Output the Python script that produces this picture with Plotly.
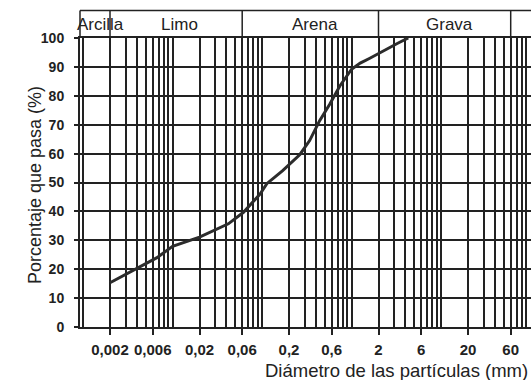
import math
import plotly.graph_objects as go

# ---- data ----
diam = [0.002, 0.003, 0.004, 0.0067, 0.010, 0.020, 0.042, 0.062, 0.095, 0.113,
        0.17, 0.265, 0.34, 0.44, 0.57, 0.74, 1.0, 1.25, 1.6, 2.0, 2.5, 3.2, 4.3]
pct = [15.3, 18.2, 20.4, 24.0, 27.9, 31.1, 35.7, 39.7, 46.0, 49.6,
       54.1, 59.7, 64.5, 71.4, 77.1, 83.4, 89.2, 91.3, 93.0, 94.7, 96.2, 98.0, 100.0]

x_tickvals = [0.002, 0.006, 0.02, 0.06, 0.2, 0.6, 2, 6, 20, 60]
x_ticktext = ["0,002", "0,006", "0,02", "0,06", "0,2", "0,6", "2", "6", "20", "60"]
y_tickvals = [0, 10, 20, 30, 40, 50, 60, 70, 80, 90, 100]

zone_names = ["Arcilla", "Limo", "Arena", "Grava"]
zone_label_x = [0.00158, 0.0121, 0.386, 12.3]
zone_bounds = [0.002, 0.06, 2, 60]

INK = "#222222"
FONT = "Liberation Sans, Arial, sans-serif"

fig = go.Figure()
fig.add_trace(go.Scatter(
    x=diam, y=pct, mode="lines",
    line=dict(color="#2c2c2c", width=3),
    showlegend=False, hoverinfo="skip",
))

HEAD_TOP = 1.095
shapes = [
    dict(type="line", xref="paper", yref="paper", x0=0, x1=1, y0=HEAD_TOP, y1=HEAD_TOP,
         line=dict(color=INK, width=1.5)),
    dict(type="line", xref="paper", yref="paper", x0=0, x1=0, y0=1, y1=HEAD_TOP,
         line=dict(color=INK, width=1.5)),
]
for b in zone_bounds:
    shapes.append(dict(type="line", xref="x", yref="paper", x0=b, x1=b, y0=1, y1=HEAD_TOP,
                       line=dict(color=INK, width=1.5)))

annotations = []
for name, xv in zip(zone_names, zone_label_x):
    annotations.append(dict(text=name, xref="x", yref="paper", x=math.log10(xv), y=1.045,
                            xanchor="center", yanchor="middle", showarrow=False,
                            font=dict(family=FONT, size=17, color=INK)))
annotations.append(dict(text="Diámetro de las partículas (mm)", xref="paper", yref="paper",
                        x=0.997, y=-0.152, xanchor="right", yanchor="middle", showarrow=False,
                        font=dict(family=FONT, size=18.5, color=INK)))
annotations.append(dict(text="Porcentaje que pasa (%)", xref="paper", yref="paper",
                        x=-0.0998, y=0.491, xanchor="center", yanchor="middle",
                        textangle=-90, showarrow=False,
                        font=dict(family=FONT, size=18, color=INK)))

left = math.log10(0.002) - 30 / 89.5
right = math.log10(0.002) + 421 / 89.5

fig.update_layout(
    width=531, height=380,
    margin=dict(l=80, r=0, t=38, b=53, pad=0),
    paper_bgcolor="white", plot_bgcolor="white",
    shapes=shapes, annotations=annotations,
    xaxis=dict(
        type="log", range=[left, right],
        tickmode="array", tickvals=x_tickvals, ticktext=x_ticktext,
        ticks="outside", ticklen=6, tickwidth=1.5, tickcolor=INK,
        ticklabelstandoff=2,
        tickfont=dict(family=FONT, size=15, color=INK, weight="bold"),
        showgrid=True, gridcolor=INK, gridwidth=1.6,
        minor=dict(dtick="D1", showgrid=True, gridcolor=INK, gridwidth=1.5, ticks=""),
        showline=True, linecolor=INK, linewidth=2, mirror=True,
        zeroline=False,
    ),
    yaxis=dict(
        range=[0, 100], tickmode="array", tickvals=y_tickvals,
        ticks="outside", ticklen=4, tickwidth=2, tickcolor=INK,
        ticklabelstandoff=7,
        tickfont=dict(family=FONT, size=14, color=INK, weight="bold"),
        showgrid=True, gridcolor=INK, gridwidth=2,
        showline=True, linecolor=INK, linewidth=2,
        zeroline=False,
    ),
)

fig.write_html("out.html")
